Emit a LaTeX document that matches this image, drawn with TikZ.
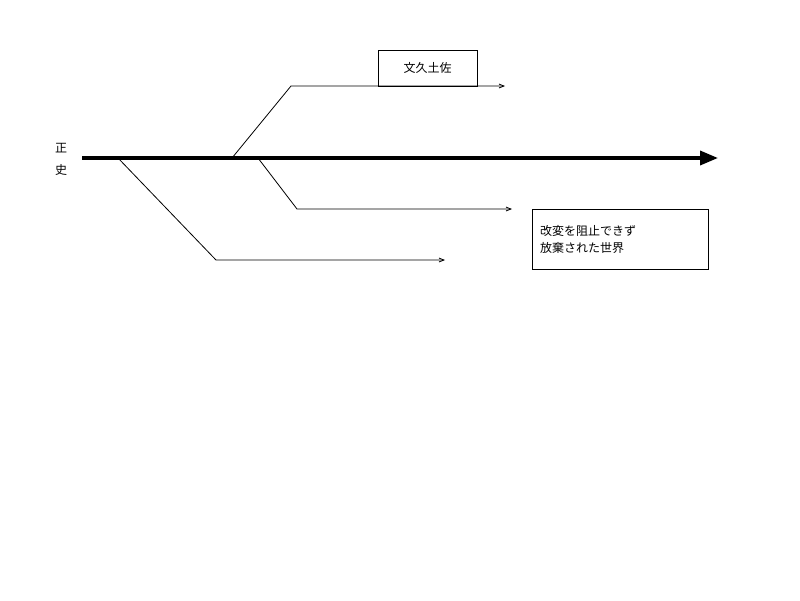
\documentclass[tikz,border=0pt]{standalone}
\usepackage{fontspec}
\setmainfont{Noto Sans CJK JP}
\usetikzlibrary{arrows.meta}
\begin{document}
\begin{tikzpicture}[x=1pt,y=-1pt,
  branch/.style={line width=0.8pt,-{Straight Barb[length=5pt,width=4pt]}},
  lbl/.style={font=\fontsize{12}{15}\selectfont,inner sep=0pt},
  boxed/.style={draw,line width=0.8pt,font=\fontsize{12}{17}\selectfont}]
\useasboundingbox (0,0) rectangle (800,600);
\fill[white] (0,0) rectangle (800,600);
\coordinate (s) at (82,158);
\coordinate (e) at (718,158);
\draw[line width=3.5pt,-{Triangle[length=18pt,width=14pt]}] (s) -- (e);
\node[lbl] (z1) at (61,148) {正};
\node[lbl] (z2) at (61,170) {史};
\coordinate (b1) at (232,158); \coordinate (b1k) at (291,86); \coordinate (b1e) at (505,86);
\draw[branch] (b1) -- (b1k) -- (b1e);
\node[boxed,minimum width=99pt,minimum height=36pt] (t1) at (427.5,68) {文久土佐};
\coordinate (b2) at (258,158); \coordinate (b2k) at (297,209); \coordinate (b2e) at (512,209);
\draw[branch] (b2) -- (b2k) -- (b2e);
\coordinate (b3) at (118,158); \coordinate (b3k) at (216,260); \coordinate (b3e) at (445,260);
\draw[branch] (b3) -- (b3k) -- (b3e);
\node[boxed,minimum width=176pt,minimum height=60pt,align=left,text width=160pt] (t2) at (620,239) {改変を阻止できず\\放棄された世界};
\end{tikzpicture}
\end{document}
